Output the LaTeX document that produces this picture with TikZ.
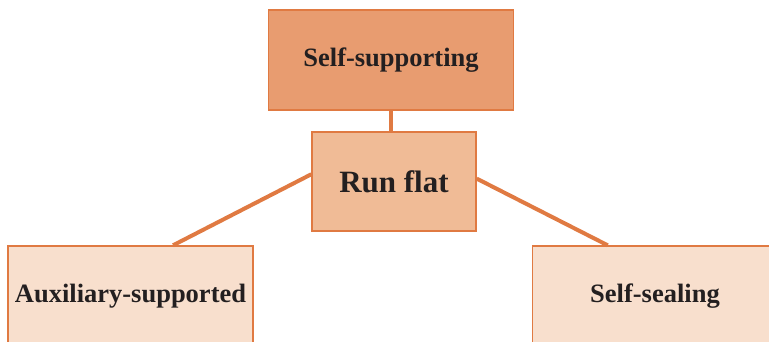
\documentclass[tikz,border=0pt]{standalone}
\usepackage{fontspec}
\setmainfont{Liberation Serif}
\usetikzlibrary{positioning, calc}

\definecolor{rfline}{HTML}{E07A42}
\definecolor{rftop}{HTML}{E89C70}
\definecolor{rfmid}{HTML}{F0BB96}
\definecolor{rflow}{HTML}{F8DFCD}
\definecolor{rftext}{HTML}{231F20}

\begin{document}
\begin{tikzpicture}[
  x=1pt, y=1pt,
  every node/.style={font=\fontsize{26.5}{30}\selectfont\bfseries, text=rftext},
  %% ── Box styles ──────────────────────────────────────────────────────────
  kind/.style={
    draw=rfline, line width=1.4pt,
    minimum width=245pt, minimum height=100pt,
    align=center, inner sep=0pt
  },
  hub/.style={
    draw=rfline, line width=1.4pt, fill=rfmid,
    minimum width=164pt, minimum height=99pt,
    align=center, inner sep=0pt,
    font=\fontsize{31}{34}\selectfont\bfseries
  },
  %% ── Connector style ─────────────────────────────────────────────────────
  link/.style={draw=rfline, line width=4pt},
]

\useasboundingbox (0,0) rectangle (769,341);
\clip (0,0) rectangle (769,341);

%% — Boxes ───────────────────────────────────────────────────────────────────
\node[kind, fill=rftop]
  (sup) at (391, 281)
  {Self-supporting};

\node[hub]
  (flat) at (394, 159.5)
  {Run flat};

\node[kind, fill=rflow]
  (aux) at (130.5, 45)
  {Auxiliary-supported};

\node[kind, fill=rflow]
  (seal) at (655, 45)
  {Self-sealing};

%% — Connectors ──────────────────────────────────────────────────────────────
\draw[link] (sup.south) -- (sup.south |- flat.north);
\draw[link] (flat.175.5) -- (aux.50.3);
\draw[link] (flat.2.4) -- (seal.133.2);

\end{tikzpicture}
\end{document}
